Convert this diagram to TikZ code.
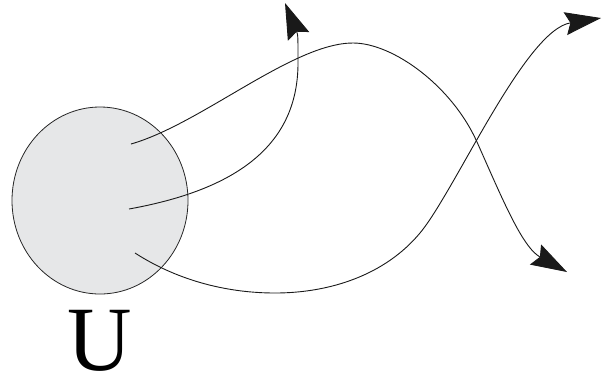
\documentclass[tikz,border=0pt]{standalone}
\usepackage{fontspec}
\setmainfont{Liberation Serif}
\usetikzlibrary{arrows.meta,shapes.geometric}
\definecolor{setgray}{RGB}{230,231,232}

\begin{document}
\begin{tikzpicture}[x=1pt, y=-1pt, >={Stealth[length=36pt, width=23pt, inset=5pt]},
    flow/.style={->, line width=0.9pt, black!90}]
  \useasboundingbox (0,0) rectangle (602,376);
  % the set U
  \node[ellipse, draw=black!85, line width=0.8pt, fill=setgray, inner sep=0pt,
    minimum width=176pt, minimum height=187pt] (set) at (100,200.5) {};
  \node[anchor=base, inner sep=0pt, font=\fontsize{92}{92}\selectfont] (lab) at (100,370.5)
    {\scalebox{0.97}[1]{U}};
  % start and end points
  \coordinate (s1) at (131,144);
  \coordinate (s2) at (129,209);
  \coordinate (s3) at (135,253);
  \coordinate (e1) at (567,272);
  \coordinate (e2) at (285,3);
  \coordinate (e3) at (601,18);
  % top start: over the hump, down to the lower right
  \draw[flow] (s1) .. controls (201,124) and (293,43) .. (353,43)
    .. controls (393,43) and (452,86) .. (477,142)
    .. controls (502,198) and (522,247) .. (e1);
  % middle start: up to the top
  \draw[flow] (s2) .. controls (229,191) and (298,150) .. (298,63)
    .. controls (298,35) .. (e2);
  % bottom start: under, then up to the upper right
  \draw[flow] (s3) .. controls (180,282) and (230,293) .. (275,293)
    .. controls (330,293) and (385,275) .. (420,233)
    .. controls (455,191) and (525,30) .. (e3);
\end{tikzpicture}
\end{document}
